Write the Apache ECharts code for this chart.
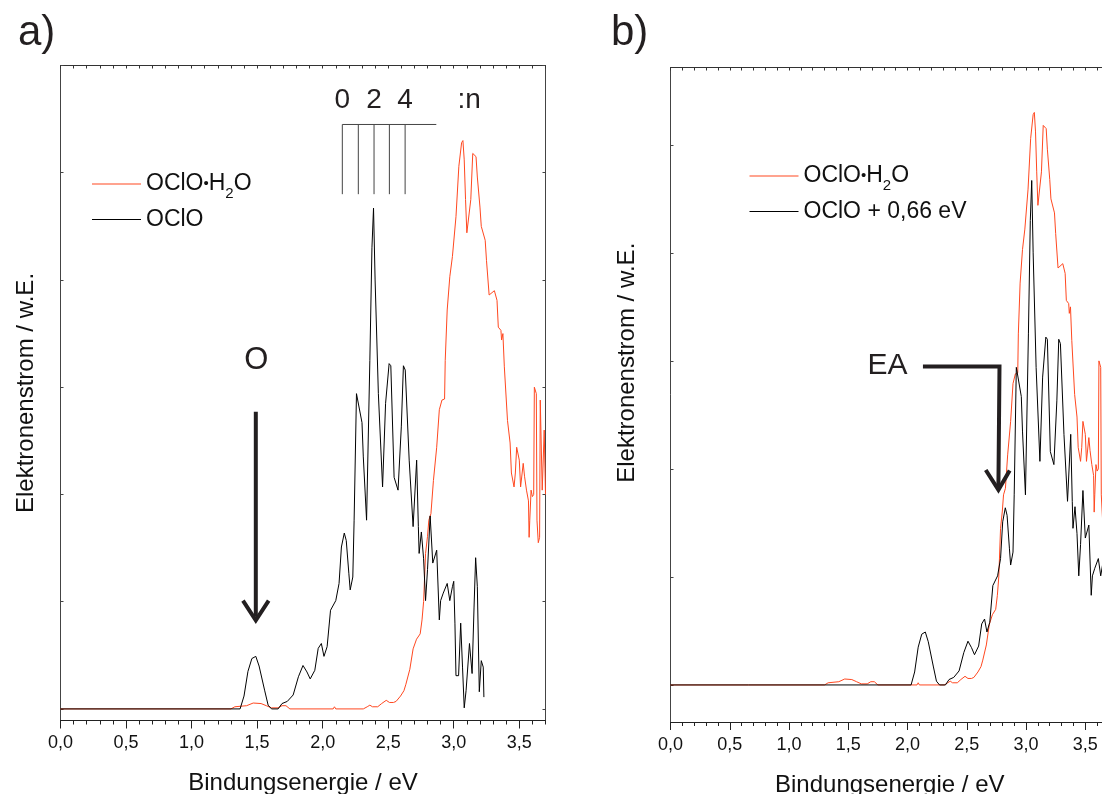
<!DOCTYPE html>
<html><head><meta charset="utf-8">
<script src="https://cdn.jsdelivr.net/npm/echarts@6/dist/echarts.min.js"></script>
<style>html,body{margin:0;padding:0;overflow:hidden;background:#fff}#c{width:1112px;height:794px}</style>
</head><body><div id="c"></div><script>
// ---- tick values ----
const xMajorTicks = [0, 0.5, 1, 1.5, 2, 2.5, 3, 3.5];
const yTicksA = [0, 1, 2, 3, 4, 5, 6];
const yTicksB = [0, 1, 2, 3, 4, 5];

// ---- series names ----
const nameH2O = 'OClO•H2O';
const nameOClO = 'OClO';
const nameOClOShift = 'OClO + 0,66 eV';
const ocloShiftEv = 0.66;

// ---- OClO spectrum (binding energy eV, electron current a.u.) ----
const oclo = [[0,0],[1.37,0],[1.40,0.12],[1.43,0.35],[1.46,0.47],[1.49,0.49],[1.515,0.40],[1.557,0.175],[1.584,0.035],[1.61,0],[1.66,0],[1.69,0.05],[1.73,0.07],[1.775,0.13],[1.815,0.30],[1.85,0.405],[1.88,0.345],[1.905,0.28],[1.94,0.36],[1.966,0.565],[1.99,0.61],[2.01,0.49],[2.034,0.58],[2.06,0.92],[2.10,1.01],[2.125,1.17],[2.143,1.51],[2.165,1.64],[2.18,1.57],[2.20,1.26],[2.21,1.11],[2.23,1.23],[2.24,1.76],[2.258,2.94],[2.27,2.93],[2.30,2.67],[2.31,2.35],[2.335,1.76],[2.36,3.25],[2.376,4.3],[2.388,4.67],[2.40,4.0],[2.425,2.94],[2.457,2.07],[2.48,2.85],[2.507,3.22],[2.52,3.20],[2.545,2.16],[2.575,2.04],[2.60,2.63],[2.616,3.20],[2.63,3.16],[2.64,3.16],[2.66,2.32],[2.69,1.70],[2.717,2.32],[2.73,1.70],[2.736,1.45],[2.753,1.65],[2.77,1.4],[2.785,1.01],[2.80,1.3],[2.82,1.80],[2.84,1.36],[2.87,1.48],[2.89,0.83],[2.90,1.01],[2.92,1.08],[2.95,1.17],[2.97,1.01],[2.99,1.14],[3.0,1.19],[3.009,0.8],[3.017,0.31],[3.037,0.31],[3.053,0.8],[3.067,0.39],[3.08,0.01],[3.094,0.17],[3.12,0.61],[3.135,0.40],[3.14,0.33],[3.155,0.95],[3.167,1.41],[3.18,1.14],[3.195,0.16],[3.21,0.45],[3.225,0.39],[3.23,0.11]];
// baseline of the shifted OClO trace in panel b before its first shifted point
const ocloShiftLead = [[0, 0]];

// ---- OClO·H2O spectrum ----
const ocloH2O = [[0,0],[1.30,0],[1.33,0.02],[1.42,0.03],[1.47,0.055],[1.53,0.05],[1.57,0.03],[1.61,0.01],[1.66,0.01],[1.69,0.03],[1.72,0.03],[1.75,0],[2.08,0],[2.09,0.02],[2.10,0],[2.31,0],[2.34,0.02],[2.36,0.035],[2.38,0.02],[2.42,0.02],[2.45,0.05],[2.485,0.08],[2.51,0.06],[2.54,0.06],[2.56,0.07],[2.594,0.12],[2.62,0.17],[2.635,0.23],[2.665,0.37],[2.69,0.56],[2.716,0.65],[2.744,0.70],[2.758,0.83],[2.77,1.0],[2.785,1.45],[2.80,1.61],[2.81,1.76],[2.826,1.82],[2.845,2.13],[2.87,2.44],[2.89,2.79],[2.91,2.88],[2.93,2.89],[2.935,3.25],[2.95,3.72],[2.97,4.03],[2.99,4.22],[3.017,4.59],[3.039,5.06],[3.06,5.28],[3.07,5.30],[3.08,5.12],[3.09,4.75],[3.10,4.44],[3.11,4.44],[3.13,4.75],[3.145,5.18],[3.17,5.15],[3.18,4.96],[3.20,4.68],[3.21,4.50],[3.24,4.37],[3.25,4.18],[3.27,3.86],[3.31,3.90],[3.33,3.81],[3.34,3.56],[3.36,3.53],[3.365,3.44],[3.375,3.50],[3.386,3.19],[3.40,3.19],[3.41,2.69],[3.43,2.48],[3.44,2.20],[3.46,2.07],[3.47,2.20],[3.48,2.44],[3.50,2.32],[3.51,2.07],[3.53,2.29],[3.54,2.17],[3.555,2.04],[3.57,1.94],[3.575,1.60],[3.58,1.76],[3.59,2.04],[3.60,1.98],[3.61,2.0],[3.615,3.0],[3.63,2.94],[3.635,1.76],[3.645,1.55],[3.655,1.60],[3.66,2.88],[3.675,2.04],[3.69,2.60],[3.70,2.0]];

// ---- annotations (data units) ----
const combLevelsEv = [2.150, 2.272, 2.392, 2.509, 2.629];
const combTop = 5.45, combBottom = 4.80, combEndEv = 2.867;
const combLabels = [['0', 2.150], ['2', 2.392], ['4', 2.629], [':n', 3.117]];
const combLabelY = 5.676;
const arrowOShaft = [[1.49, 2.77], [1.49, 0.86]];
const arrowOHead = [[1.392, 1.01], [1.49, 0.827], [1.588, 1.01]];
const labelO = ['O', 1.493, 3.247];
const arrowEAShaft = [[2.13, 2.947], [2.776, 2.947], [2.767, 1.84]];
const arrowEAHead = [[2.66, 1.99], [2.767, 1.806], [2.862, 1.985]];
const labelEA = ['EA', 1.831, 2.955];

const FONT = '"Liberation Sans", Arial, sans-serif';
const INK = '#231f20';
const RED = '#ff4820';

const fmt = v => v.toFixed(1).replace('.', ',');

function xAxes(g) {
  const base = {gridIndex: g, type: 'value', min: 0, max: 3.7, interval: 0.1, splitLine: {show: false}};
  return [
    Object.assign({}, base, {
      position: 'bottom',
      axisLine: {show: true, onZero: false, lineStyle: {color: '#222', width: 1}},
      axisTick: {show: true, inside: false, length: 8, customValues: xMajorTicks, lineStyle: {color: '#222', width: 1}},
      axisLabel: {show: true, customValues: xMajorTicks, formatter: fmt, fontSize: 18, color: '#111', fontFamily: FONT, margin: 14},
      name: 'Bindungsenergie / eV', nameLocation: 'middle', nameGap: 51,
      nameTextStyle: {fontSize: 24, color: '#111', fontFamily: FONT}
    }),
    Object.assign({}, base, {
      position: 'bottom',
      axisLine: {show: false, onZero: false},
      axisTick: {show: true, inside: false, length: 4, lineStyle: {color: '#222', width: 1}},
      axisLabel: {show: false}
    }),
    Object.assign({}, base, {
      position: 'top',
      axisLine: {show: true, onZero: false, lineStyle: {color: '#333', width: 1}},
      axisTick: {show: true, inside: true, length: 3, lineStyle: {color: '#333', width: 1}},
      axisLabel: {show: false}
    })
  ];
}
function yAxes(g, min, max, ticks, nameOpts) {
  const base = {gridIndex: g, type: 'value', min: min, max: max, splitLine: {show: false},
    axisLine: {show: true, onZero: false, lineStyle: {color: '#444', width: 1}},
    axisTick: {show: true, inside: true, length: 3, customValues: ticks, lineStyle: {color: '#444', width: 1}},
    axisLabel: {show: false}};
  return [
    Object.assign({}, base, {position: 'left', name: 'Elektronenstrom / w.E.', nameLocation: 'middle',
      nameGap: nameOpts.gap, nameTextStyle: {fontSize: 24, color: '#111', fontFamily: FONT, padding: nameOpts.padding}}),
    Object.assign({}, base, {position: 'right'})
  ];
}

function lineSeries(name, data, color, xi, yi, z) {
  return {type: 'line', name: name, data: data, xAxisIndex: xi, yAxisIndex: yi, showSymbol: false, symbol: 'none',
    lineStyle: {color: color, width: 1}, itemStyle: {color: color}, silent: true, z: z || 2, animation: false};
}
function annoLine(data, xi, yi, width, color, z) {
  return {type: 'line', data: data, xAxisIndex: xi, yAxisIndex: yi, symbol: 'none', silent: true, animation: false,
    lineStyle: {color: color, width: width, cap: 'butt', join: 'miter'}, z: z || 5, legendHoverLink: false};
}
function textSeries(items, xi, yi, size) {
  return {type: 'scatter', xAxisIndex: xi, yAxisIndex: yi, silent: true, animation: false, symbolSize: 0,
    itemStyle: {color: INK, opacity: 1},
    data: items.map(t => ({value: [t[1], t[2]], label: {show: true, position: 'inside', formatter: t[0],
      fontSize: size, color: INK, opacity: 1, fontFamily: FONT, textBorderWidth: 0}})), z: 6};
}

const legendRich = {
  n: {fontSize: 23, lineHeight: 34, color: '#111', fontFamily: FONT},
  d: {fontSize: 15, lineHeight: 34, color: '#111', fontFamily: FONT},
  s: {fontSize: 15, lineHeight: 10, verticalAlign: 'bottom', color: '#111', fontFamily: FONT}
};
const legendFmt = name => name === nameH2O ? '{n|OClO}{d|•}{n|H}{s|2}{n|O}' : '{n|' + name + '}';

const series = [];
// panel a
series.push(lineSeries(nameH2O, ocloH2O, RED, 0, 0, 2));
series.push(lineSeries(nameOClO, oclo, '#000', 0, 0, 3));
combLevelsEv.forEach(x => series.push(annoLine([[x, combTop], [x, combBottom]], 0, 0, 1, '#444', 4)));
series.push(annoLine([[combLevelsEv[0], combTop], [combEndEv, combTop]], 0, 0, 1, '#444', 4));
series.push(textSeries(combLabels.map(c => [c[0], c[1], combLabelY]), 0, 0, 28));
series.push(annoLine(arrowOShaft, 0, 0, 4, INK));
series.push(annoLine(arrowOHead, 0, 0, 4, INK));
series.push(textSeries([labelO], 0, 0, 31));
// panel b
series.push(lineSeries(nameH2O, ocloH2O, RED, 3, 2, 2));
series.push(lineSeries(nameOClOShift, ocloShiftLead.concat(oclo.map(p => [p[0] + ocloShiftEv, p[1]])), '#000', 3, 2, 3));
series.push(annoLine(arrowEAShaft, 3, 2, 4, INK));
series.push(annoLine(arrowEAHead, 3, 2, 4, INK));
series.push(textSeries([labelEA], 3, 2, 30));

const legendBase = {padding: 0, orient: 'vertical', icon: 'rect', itemWidth: 49, itemHeight: 1,
  selectedMode: false, formatter: legendFmt, textStyle: {rich: legendRich}};
const option = {
  backgroundColor: '#fff',
  animation: false,
  title: [
    {text: 'a)', left: 18, top: 12, padding: 0, textStyle: {fontSize: 42, fontWeight: 'normal', color: INK, fontFamily: FONT}},
    {text: 'b)', left: 611, top: 12, padding: 0, textStyle: {fontSize: 42, fontWeight: 'normal', color: INK, fontFamily: FONT}}
  ],
  legend: [
    Object.assign({}, legendBase, {data: [nameH2O, nameOClO], left: 92, top: 172.5, itemGap: 7}),
    Object.assign({}, legendBase, {data: [nameH2O, nameOClOShift], left: 749.5, top: 164.5, itemGap: 7})
  ],
  grid: [
    {left: 60.5, top: 65.5, width: 485, height: 655, containLabel: false, outerBoundsMode: 'none'},
    {left: 670.5, top: 67.5, width: 438.5, height: 654.5, containLabel: false, outerBoundsMode: 'none'}
  ],
  xAxis: xAxes(0).concat(xAxes(1)),
  yAxis: yAxes(0, -0.108, 6, yTicksA, {gap: 22, padding: 0}).concat(yAxes(1, -0.343, 5.716, yTicksB, {gap: 31, padding: [0, 0, 0, 64]})),
  series: series
};
const chart = echarts.init(document.getElementById('c'), null, {renderer: 'canvas'});
chart.setOption(option);
</script></body></html>
